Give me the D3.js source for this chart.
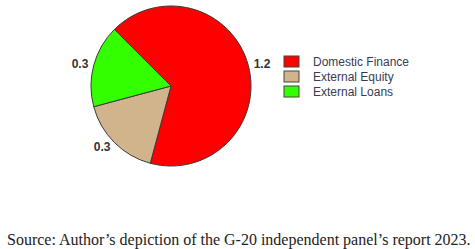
<!DOCTYPE html>
<html>
<head>
<meta charset="utf-8">
<script src="https://cdn.jsdelivr.net/npm/d3@7"></script>
<style>
  body { margin: 0; background: #fff; }
  svg { display: block; }
</style>
</head>
<body>
<script>
// values (trillion USD)
const categories = ['Domestic Finance', 'External Equity', 'External Loans'];
const values = [1.2, 0.3, 0.3];
const labels = ['1.2', '0.3', '0.3'];
const colors = ['#ff0000', '#d2b48c', '#33ff00'];

const w = 475, h = 249;
const cx = 171, cy = 86, r = 80;

let svg = d3.select(document.body).append('svg')
  .attr('width', w)
  .attr('height', h);

let pie = d3.pie()
  .sort(null)
  .startAngle(-Math.PI / 4)
  .endAngle(2 * Math.PI - Math.PI / 4);

let arcs = pie(values);
let arc = d3.arc().innerRadius(0).outerRadius(r);
let labelArc = d3.arc().innerRadius(r * 1.07).outerRadius(r * 1.07);

let g = svg.append('g').attr('transform', `translate(${cx},${cy})`);

g.selectAll('path.slice')
  .data(arcs)
  .enter().append('path')
  .attr('class', 'slice')
  .attr('d', arc)
  .attr('fill', (d, i) => colors[i])
  .attr('stroke', '#3a3a3a')
  .attr('stroke-width', 1);

g.selectAll('text.lbl')
  .data(arcs)
  .enter().append('text')
  .attr('class', 'lbl')
  .attr('x', d => labelArc.centroid(d)[0])
  .attr('y', d => labelArc.centroid(d)[1])
  .attr('dy', '0.35em')
  .attr('text-anchor', d => (labelArc.centroid(d)[0] < 0 ? 'end' : 'start'))
  .style('font-family', 'Liberation Sans, Arial, sans-serif')
  .style('font-size', '12px')
  .style('font-weight', 'bold')
  .style('fill', '#333')
  .text((d, i) => labels[i]);

// legend
let leg = svg.append('g').attr('transform', 'translate(284,56)');
let item = leg.selectAll('g')
  .data(categories)
  .enter().append('g')
  .attr('transform', (d, i) => `translate(0,${i * 15})`);

item.append('rect')
  .attr('width', 15)
  .attr('height', 11)
  .attr('fill', (d, i) => colors[i])
  .attr('stroke', '#444')
  .attr('stroke-width', 1);

item.append('text')
  .attr('x', 29)
  .attr('y', 10)
  .style('font-family', 'Liberation Sans, Arial, sans-serif')
  .style('font-size', '12px')
  .style('fill', '#3a3a55')
  .text(d => d);

svg.append('text')
  .attr('x', 7)
  .attr('y', 245)
  .style('font-family', 'Liberation Serif, Times New Roman, serif')
  .style('font-size', '16px')
  .style('fill', '#222')
  .text('Source: Author\u2019s depiction of the G-20 independent panel\u2019s report 2023.');
</script>
</body>
</html>
